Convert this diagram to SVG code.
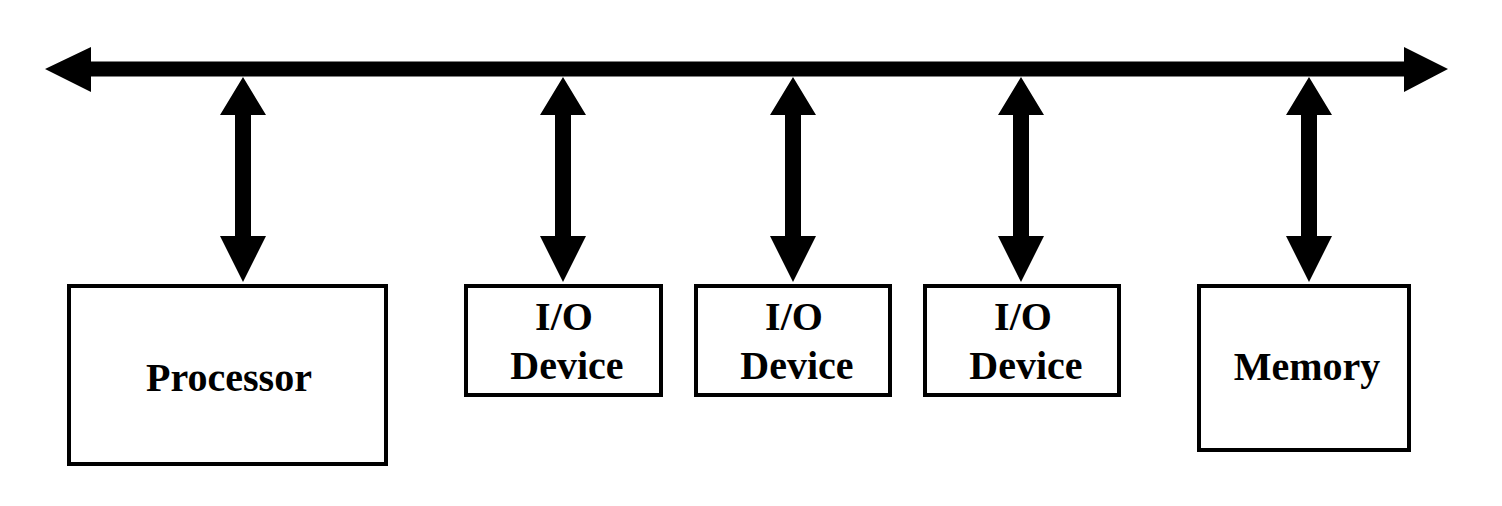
<svg xmlns="http://www.w3.org/2000/svg" xmlns:xlink="http://www.w3.org/1999/xlink" width="1502" height="506" viewBox="0 0 1502 506">
<style>
.box{fill:#fff;stroke:#000;stroke-width:4}
.lbl{font-family:"Liberation Serif","Times New Roman",serif;font-weight:bold;font-size:40px;fill:#000;text-anchor:middle}
.arr{fill:#000}
</style>
<defs>
<path id="varrow" d="M0,77 L23,115 L8,115 L8,236 L23,236 L0,282 L-23,236 L-8,236 L-8,115 L-23,115 Z"/>
</defs>
<g id="connectors" class="arr">
<path id="bus" d="M45,69 L91,47 L91,61.5 L1404,61.5 L1404,47 L1448,69 L1404,92 L1404,76.5 L91,76.5 L91,92 Z"/>
<use xlink:href="#varrow" href="#varrow" x="243"/>
<use xlink:href="#varrow" href="#varrow" x="563"/>
<use xlink:href="#varrow" href="#varrow" x="793"/>
<use xlink:href="#varrow" href="#varrow" x="1021"/>
<use xlink:href="#varrow" href="#varrow" x="1309"/>
</g>
<g id="processor">
<rect class="box" x="69" y="286" width="317" height="178"/>
<text class="lbl" x="229" y="391">Processor</text>
</g>
<g id="io1">
<rect class="box" x="466" y="286" width="195" height="109"/>
<text class="lbl" x="564" y="330">I/O</text>
<text class="lbl" x="567" y="379">Device</text>
</g>
<g id="io2">
<rect class="box" x="696" y="286" width="194" height="109"/>
<text class="lbl" x="794" y="330">I/O</text>
<text class="lbl" x="797" y="379">Device</text>
</g>
<g id="io3">
<rect class="box" x="925" y="286" width="194" height="109"/>
<text class="lbl" x="1023" y="330">I/O</text>
<text class="lbl" x="1026" y="379">Device</text>
</g>
<g id="memory">
<rect class="box" x="1199" y="286" width="210" height="164"/>
<text class="lbl" x="1307" y="380">Memory</text>
</g>
</svg>
